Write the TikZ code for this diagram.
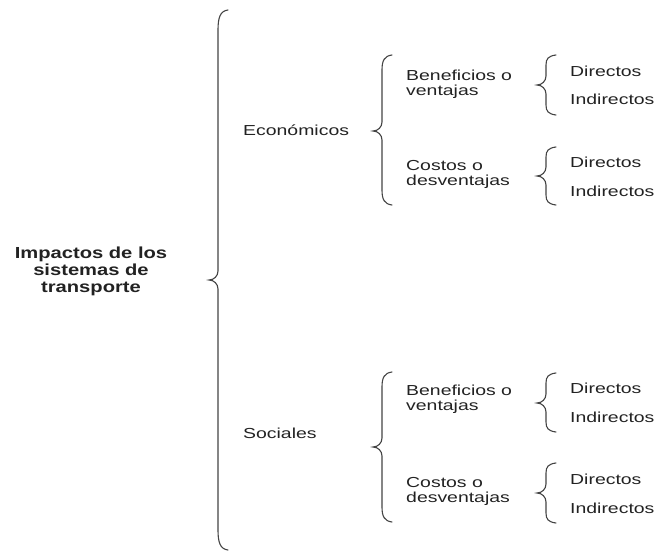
\documentclass[tikz,border=0pt]{standalone}
\usepackage{fontspec}
\setmainfont[FakeStretch=1.34]{Liberation Sans}
\newfontfamily\titlefont[FakeStretch=1.26]{Liberation Sans}
\definecolor{txt}{HTML}{222222}
\definecolor{brc}{HTML}{444444}
\tikzset{
  bracestyle/.style={draw=brc, line width=1.1pt, line cap=round},
  lbl/.style={inner sep=0pt, anchor=base west, text=txt, font=\fontsize{14.5}{15}\selectfont, align=left},
  ttl/.style={inner sep=0pt, anchor=base, text=txt, font=\titlefont\bfseries\fontsize{16}{17}\selectfont, align=center},
}
% x, top, mid, bottom, curl length
\newcommand\brc[5]{%
  \draw[bracestyle] ({#1+10},#2) .. controls ({#1+2},{#2+1}) and (#1,{#2+#5*0.4}) .. (#1,{#2+#5})
    -- (#1,{#3-9}) .. controls (#1,{#3-4}) and ({#1-4},#3) .. ({#1-9},#3)
    .. controls ({#1-4},#3) and (#1,{#3+4}) .. (#1,{#3+9})
    -- (#1,{#4-#5}) .. controls (#1,{#4-#5*0.4}) and ({#1+2},{#4-1}) .. ({#1+10},#4);}
\begin{document}
\begin{tikzpicture}[x=1pt,y=-1pt]
\useasboundingbox (0,0) rectangle (659,554);
% title (base anchor = last line)
\node[ttl] (root) at (91,292) {Impactos de los\\sistemas de\\transporte};
% big brace
\brc{218}{10}{280}{550}{20}
% level 1
\node[lbl] (eco) at (243,135) {Económicos};
\node[lbl] (soc) at (243,438) {Sociales};
\brc{382}{55}{131}{205}{15}
\brc{382}{372}{447}{522}{15}
% level 2
\node[lbl] (ebv) at (406,95) {Beneficios o\\ventajas};
\node[lbl] (ecd) at (406,185) {Costos o\\desventajas};
\node[lbl] (sbv) at (406,410) {Beneficios o\\ventajas};
\node[lbl] (scd) at (406,502) {Costos o\\desventajas};
\brc{546}{55}{85}{115}{10}
\brc{546}{147}{176}{205}{10}
\brc{546}{373}{403}{432}{10}
\brc{546}{463}{493}{523}{10}
% level 3
\node[lbl] (ebd) at (570,76) {Directos};
\node[lbl] (ebi) at (570,104) {Indirectos};
\node[lbl] (ecdd) at (570,167) {Directos};
\node[lbl] (ecdi) at (570,196) {Indirectos};
\node[lbl] (sbd) at (570,393) {Directos};
\node[lbl] (sbi) at (570,422) {Indirectos};
\node[lbl] (scdd) at (570,484) {Directos};
\node[lbl] (scdi) at (570,513) {Indirectos};
\end{tikzpicture}
\end{document}
